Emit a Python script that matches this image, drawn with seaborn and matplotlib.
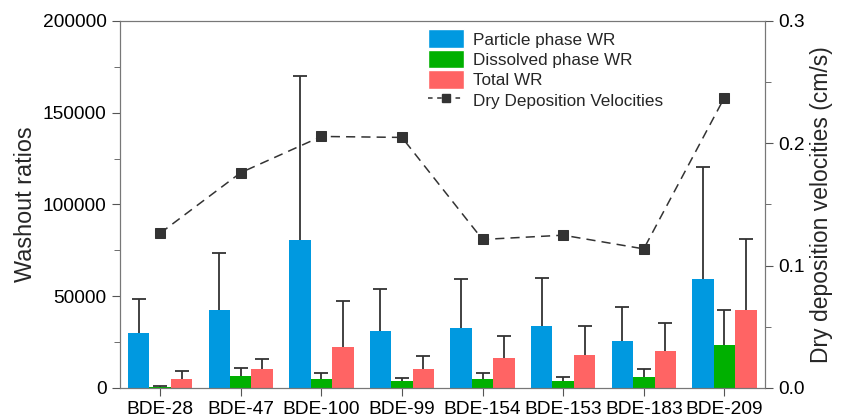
import numpy as np
import pandas as pd
import matplotlib
matplotlib.use("Agg")
import matplotlib.pyplot as plt
import seaborn as sns
from matplotlib.ticker import MultipleLocator, FormatStrFormatter
from matplotlib.patches import Patch
from matplotlib.lines import Line2D

categories = ["BDE-28", "BDE-47", "BDE-100", "BDE-99", "BDE-154", "BDE-153", "BDE-183", "BDE-209"]
particle_wr = [30200, 42400, 80900, 31100, 32900, 33600, 25800, 59600]
particle_err_top = [48700, 73800, 170200, 53800, 59500, 59800, 44000, 120400]
dissolved_wr = [600, 6400, 5100, 3600, 5100, 3800, 6000, 23600]
dissolved_err_top = [1100, 10700, 8000, 5500, 8400, 5800, 10200, 42500]
total_wr = [5100, 10200, 22200, 10200, 16200, 18000, 20400, 42400]
total_err_top = [9100, 15600, 47600, 17300, 28400, 33800, 35500, 81300]
dry_dep_vel = [0.1265, 0.176, 0.2056, 0.2048, 0.1214, 0.1249, 0.1137, 0.2373]

series_names = ["Particle phase WR", "Dissolved phase WR", "Total WR"]
colors = ["#0099e0", "#00b000", "#ff6464"]

sns.set_style("ticks")
plt.rcParams["font.family"] = ["Liberation Sans", "DejaVu Sans"]

df = pd.DataFrame({
    "cat": categories * 3,
    "val": particle_wr + dissolved_wr + total_wr,
    "series": sum([[s] * len(categories) for s in series_names], []),
})

fig = plt.figure(figsize=(8.44, 4.19), dpi=100)
ax = fig.add_axes([0.142, 0.074, 0.764, 0.876])
sns.barplot(data=df, x="cat", y="val", hue="series", palette=colors, width=0.8, gap=0,
            errorbar=None, ax=ax, legend=False, saturation=1, linewidth=0, zorder=2)

tops = [particle_err_top, dissolved_err_top, total_err_top]
vals = [particle_wr, dissolved_wr, total_wr]
for cont, v, t in zip(ax.containers, vals, tops):
    xs = [p.get_x() + p.get_width() / 2 for p in cont.patches]
    up = [b - a for a, b in zip(v, t)]
    eb = ax.errorbar(xs, v, yerr=[np.zeros(len(v)), up], fmt="none", ecolor="#333333",
                     elinewidth=1.3, capsize=5, capthick=1.3, zorder=1)
    if len(eb[1]) > 1:
        eb[1][0].set_visible(False)

ax.set_xlim(-0.5, 7.5)
ax.set_ylim(0, 200000)
ax.yaxis.set_major_locator(MultipleLocator(50000))
ax.yaxis.set_minor_locator(MultipleLocator(25000))
ax.set_xlabel("")
ax.set_ylabel("Washout ratios", fontsize=16.8)
ax.tick_params(axis="both", labelsize=13.8, colors="#555555", labelcolor="black", length=6)
ax.tick_params(axis="y", which="minor", length=4, colors="#555555")
for s in ax.spines.values():
    s.set_color("#777777")

ax2 = ax.twinx()
sns.lineplot(x=np.arange(len(categories)), y=dry_dep_vel, ax=ax2, color="#333333",
             linestyle=(0, (6, 4)), linewidth=1.1, marker="s", markersize=7,
             markeredgecolor="#333333")
ax2.set_ylim(0, 0.3)
ax2.yaxis.set_major_locator(MultipleLocator(0.1))
ax2.yaxis.set_minor_locator(MultipleLocator(0.05))
ax2.yaxis.set_major_formatter(FormatStrFormatter("%.1f"))
ax2.set_ylabel("Dry deposition velocities (cm/s)", fontsize=16.5)
ax2.tick_params(axis="y", labelsize=13.8, colors="#555555", labelcolor="black", length=6)
ax2.tick_params(axis="y", which="minor", length=4, colors="#555555")
for s in ax2.spines.values():
    s.set_color("#777777")

handles = [Patch(facecolor=c, label=n) for c, n in zip(colors, series_names)]
handles.append(Line2D([], [], color="#333333", linestyle=(0, (3, 3)), linewidth=1.1,
                      marker="s", markersize=6, label="Dry Deposition Velocities"))
ax2.legend(handles=handles, loc="upper left", bbox_to_anchor=(0.465, 1.0), frameon=False,
           fontsize=12.3, handlelength=2.1, handleheight=1.3, labelspacing=0.1,
           handletextpad=0.5, borderaxespad=0.1)

fig.savefig("out.png", dpi=100)
